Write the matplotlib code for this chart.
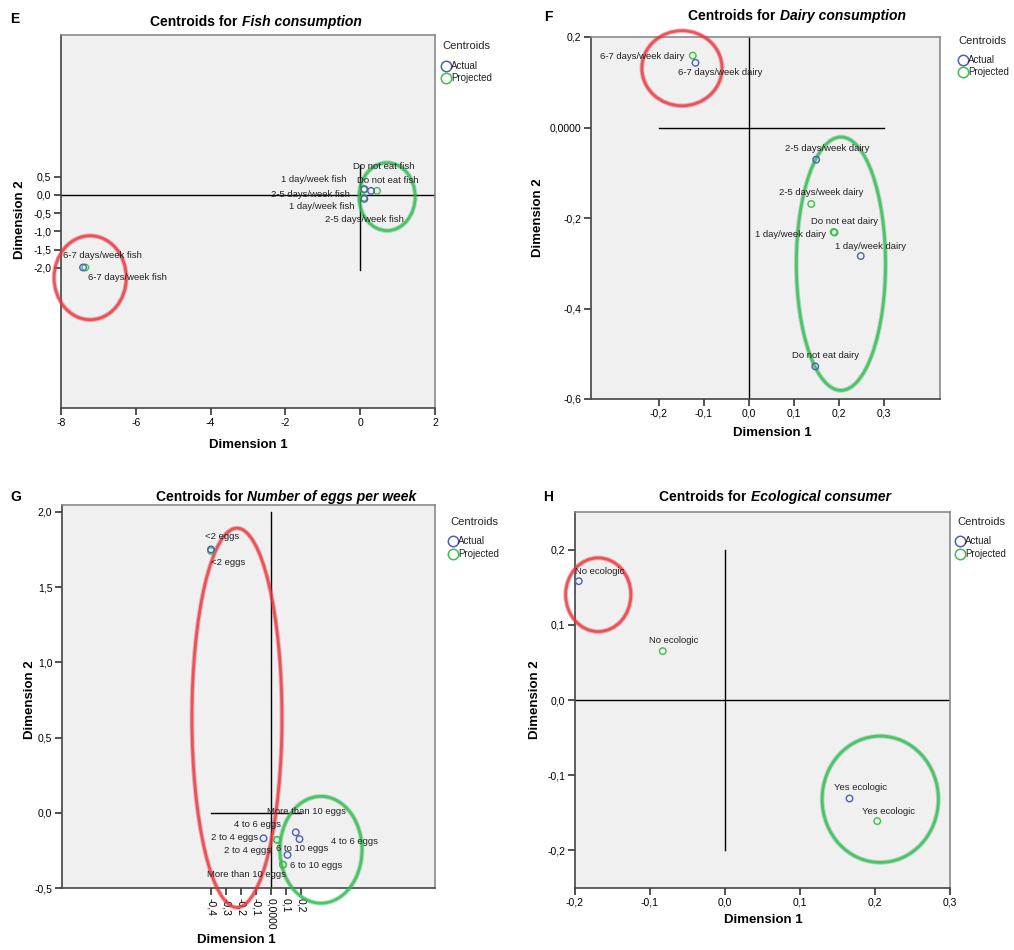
import matplotlib
matplotlib.use("Agg")
import matplotlib.pyplot as plt
from matplotlib.patches import Ellipse
from matplotlib.lines import Line2D
from matplotlib.ticker import FixedLocator, FixedFormatter

plt.rcParams['font.family'] = ['Liberation Sans', 'DejaVu Sans']

# ---------------- data ----------------
fish_cats = ["Do not eat fish", "1 day/week fish", "2-5 days/week fish", "6-7 days/week fish"]
fish_act_x = [0.29, 0.11, 0.11, -7.41]
fish_act_y = [0.11, 0.16, -0.11, -1.99]
fish_prj_x = [0.45, 0.10, 0.10, -7.35]
fish_prj_y = [0.11, 0.14, -0.08, -1.99]

dairy_cats = ["6-7 days/week dairy", "2-5 days/week dairy", "Do not eat dairy", "1 day/week dairy"]
dairy_act_x = [-0.119, 0.149, 0.147, 0.248]
dairy_act_y = [0.143, -0.071, -0.528, -0.284]
dairy_prj_x = [-0.125, 0.138, 0.190, 0.188]
dairy_prj_y = [0.159, -0.169, -0.232, -0.231]

egg_cats = ["<2 eggs", "2 to 4 eggs", "4 to 6 eggs", "6 to 10 eggs", "More than 10 eggs"]
egg_act_x = [-0.40, -0.05, 0.19, 0.11, 0.165]
egg_act_y = [1.75, -0.17, -0.175, -0.28, -0.13]
egg_prj_x = [-0.40, 0.04, 0.04, 0.08, 0.08]
egg_prj_y = [1.74, -0.18, -0.18, -0.345, -0.345]

eco_cats = ["No ecologic", "Yes ecologic"]
eco_act_x = [-0.195, 0.166]
eco_act_y = [0.158, -0.131]
eco_prj_x = [-0.083, 0.203]
eco_prj_y = [0.065, -0.161]

legend_title = "Centroids"
legend_labels = ["Actual", "Projected"]

# ---------------- style ----------------
W, H = 1014, 950
BLUE = '#4f5fb5'
GREEN = '#3fbf4a'
RED = '#e8343c'
ELL_GREEN = '#2fb850'
BG = '#f0f0f0'

fig = plt.figure(figsize=(W / 100, H / 100), dpi=100)


def add_axes(l, t, r, b):
    return fig.add_axes([l / W, 1 - b / H, (r - l) / W, (b - t) / H])


def fx(px):
    return px / W


def fy(py):
    return 1 - py / H


def style_axes(ax, xt, xtl, yt, ytl, xrot=0):
    ax.set_facecolor(BG)
    for s in ['top', 'right']:
        ax.spines[s].set_color('#8a8a8a')
        ax.spines[s].set_linewidth(1.2)
    for s in ['left', 'bottom']:
        ax.spines[s].set_color('#444444')
        ax.spines[s].set_linewidth(1.2)
    ax.xaxis.set_major_locator(FixedLocator(xt))
    ax.xaxis.set_major_formatter(FixedFormatter(xtl))
    ax.yaxis.set_major_locator(FixedLocator(yt))
    ax.yaxis.set_major_formatter(FixedFormatter(ytl))
    ax.tick_params(length=5, width=1.2, color='#333333', labelsize=7.5, pad=2)
    if xrot:
        for lab in ax.get_xticklabels():
            lab.set_rotation(xrot)
            lab.set_va('top')
            lab.set_ha('center')


def plot_points(ax, cats, ax_x, ax_y, px_x, px_y, off_a, off_p):
    ax.scatter(px_x, px_y, s=22, facecolors='none', edgecolors=GREEN, linewidths=1.0, zorder=4)
    ax.scatter(ax_x, ax_y, s=22, facecolors='none', edgecolors=BLUE, linewidths=1.0, zorder=5)
    for c, x, y, o in zip(cats, ax_x, ax_y, off_a):
        ax.annotate(c, (x, y), xytext=(o[0], -o[1]), textcoords='offset pixels',
                    ha='center', va='center', fontsize=6.8, color='#222222', zorder=6,
                    annotation_clip=False)
    for c, x, y, o in zip(cats, px_x, px_y, off_p):
        ax.annotate(c, (x, y), xytext=(o[0], -o[1]), textcoords='offset pixels',
                    ha='center', va='center', fontsize=6.8, color='#222222', zorder=6,
                    annotation_clip=False)


def ellipse(ax, cx, cy, w, h, color):
    for lw, a in [(3.4, 0.35), (2.0, 0.75)]:
        e = Ellipse((cx, cy), w, h, fill=False, edgecolor=color, linewidth=lw, alpha=a,
                    zorder=3, clip_on=False)
        ax.add_patch(e)


def legend(tx, ty, mx, y1, y2):
    fig.text(fx(tx), fy(ty), legend_title, fontsize=8, ha='left', va='center', color='#222222')
    for col, lab, yy in [(BLUE, legend_labels[0], y1), (GREEN, legend_labels[1], y2)]:
        fig.add_artist(Line2D([fx(mx)], [fy(yy)], marker='o', ls='none', mfc='none', mec=col,
                              ms=7.5, mew=1.1, transform=fig.transFigure))
        fig.text(fx(mx + 5), fy(yy), lab, fontsize=7, ha='left', va='center', color='#222222')


def title(cx, cy, italic):
    r = fig.canvas.get_renderer()
    t1 = fig.text(0, fy(cy), 'Centroids for ', fontsize=10, fontweight='bold', va='center')
    t2 = fig.text(0, fy(cy), italic, fontsize=10, fontweight='bold', style='italic', va='center')
    w1 = t1.get_window_extent(r).width
    w2 = t2.get_window_extent(r).width
    start = cx - (w1 + w2) / 2
    t1.set_x(fx(start))
    t2.set_x(fx(start + w1))


def labels(x1, y1, x2, y2):
    fig.text(fx(x1), fy(y1), 'Dimension 1', fontsize=9.5, fontweight='bold', ha='center', va='center')
    fig.text(fx(x2), fy(y2), 'Dimension 2', fontsize=9.5, fontweight='bold', ha='center',
             va='center', rotation=90)


# ---------------- Panel E ----------------
axE = add_axes(61, 35, 435, 408)
axE.set_xlim(-8, 2)
axE.set_ylim(-5.84, 4.38)
style_axes(axE, [-8, -6, -4, -2, 0, 2], ['-8', '-6', '-4', '-2', '0', '2'],
           [0.5, 0, -0.5, -1, -1.5, -2], ['0,5', '0,0', '-0,5', '-1,0', '-1,5', '-2,0'])
axE.plot([-8, 2], [0, 0], color='black', lw=1, zorder=2)
axE.plot([0, 0], [-2.05, 0.82], color='black', lw=1, zorder=2)
ellipse(axE, -7.22, -2.27, 1.93, 2.3, RED)
ellipse(axE, 0.72, -0.05, 1.5, 1.86, ELL_GREEN)
plot_points(axE, fish_cats, fish_act_x, fish_act_y, fish_prj_x, fish_prj_y,
            off_a=[(13, -24), (-51, -10), (0, 21), (19, -12)],
            off_p=[(11, -10), (-42, 17), (-54, -3), (42, 10)])
legend(442, 46, 446, 66, 78)
title(256, 22, 'Fish consumption')
labels(248, 445, 20, 220)
fig.text(fx(15), fy(19), 'E', fontsize=10, fontweight='bold', ha='center', va='center')

# ---------------- Panel F ----------------
axF = add_axes(591, 37, 940, 399)
axF.set_xlim(-0.351, 0.424)
axF.set_ylim(-0.6, 0.2)
style_axes(axF, [-0.2, -0.1, 0, 0.1, 0.2, 0.3], ['-0,2', '-0,1', '0,0', '0,1', '0,2', '0,3'],
           [0.2, 0, -0.2, -0.4, -0.6], ['0,2', '0,0000', '-0,2', '-0,4', '-0,6'])
axF.plot([-0.2, 0.3], [0, 0], color='black', lw=1, zorder=2)
axF.plot([0, 0], [-0.6, 0.2], color='black', lw=1, zorder=2)
ellipse(axF, -0.149, 0.131, 0.178, 0.166, RED)
ellipse(axF, 0.204, -0.301, 0.198, 0.56, ELL_GREEN)
plot_points(axF, dairy_cats, dairy_act_x, dairy_act_y, dairy_prj_x, dairy_prj_y,
            off_a=[(25, 10), (11, -11), (10, -11), (10, -10)],
            off_p=[(-51, 1), (10, -11), (10, -11), (-43, 2)])
legend(958, 41, 963, 60, 72)
title(797, 16, 'Dairy consumption')
labels(772, 433, 538, 218)
fig.text(fx(548), fy(17), 'F', fontsize=10, fontweight='bold', ha='center', va='center')

# ---------------- Panel G ----------------
axG = add_axes(62, 505, 435, 888)
axG.set_xlim(-1.393, 1.093)
axG.set_ylim(-0.5, 2.045)
style_axes(axG, [-0.4, -0.3, -0.2, -0.1, 0, 0.1, 0.2],
           ['-0,4', '-0,3', '-0,2', '-0,1', '0,0000', '0,1', '0,2'],
           [2, 1.5, 1, 0.5, 0, -0.5], ['2,0', '1,5', '1,0', '0,5', '0,0', '-0,5'], xrot=-90)
axG.plot([-0.4, 0.2], [0, 0], color='black', lw=1, zorder=2)
axG.plot([0, 0], [-0.5, 2.0], color='black', lw=1, zorder=2)
ellipse(axG, -0.227, 0.631, 0.6, 2.52, RED)
ellipse(axG, 0.333, -0.246, 0.547, 0.71, ELL_GREEN)
plot_points(axG, egg_cats, egg_act_x, egg_act_y, egg_prj_x, egg_prj_y,
            off_a=[(11, -13), (-29, -1), (55, 2), (15, -6), (11, -21)],
            off_p=[(17, 12), (-29, 11), (-20, -15), (33, 1), (-37, 10)])
legend(450, 522, 453, 541, 554)
title(286, 497, 'Number of eggs per week')
labels(236, 940, 30, 700)
fig.text(fx(16), fy(497), 'G', fontsize=10, fontweight='bold', ha='center', va='center')

# ---------------- Panel H ----------------
axH = add_axes(575, 512, 950, 888)
axH.set_xlim(-0.2, 0.3)
axH.set_ylim(-0.25, 0.25)
style_axes(axH, [-0.2, -0.1, 0, 0.1, 0.2, 0.3], ['-0,2', '-0,1', '0,0', '0,1', '0,2', '0,3'],
           [0.2, 0.1, 0, -0.1, -0.2], ['0,2', '0,1', '0,0', '-0,1', '-0,2'])
axH.plot([-0.2, 0.3], [0, 0], color='black', lw=1, zorder=2)
axH.plot([0, 0], [-0.2, 0.2], color='black', lw=1, zorder=2)
ellipse(axH, -0.169, 0.140, 0.087, 0.098, RED)
ellipse(axH, 0.207, -0.132, 0.155, 0.168, ELL_GREEN)
plot_points(axH, eco_cats, eco_act_x, eco_act_y, eco_prj_x, eco_prj_y,
            off_a=[(21, -10), (11, -11)],
            off_p=[(11, -11), (11, -10)])
legend(957, 522, 960, 541, 554)
title(775, 497, 'Ecological consumer')
labels(763, 920, 535, 700)
fig.text(fx(548), fy(497), 'H', fontsize=10, fontweight='bold', ha='center', va='center')

fig.savefig('out.png', dpi=100, facecolor='white')
